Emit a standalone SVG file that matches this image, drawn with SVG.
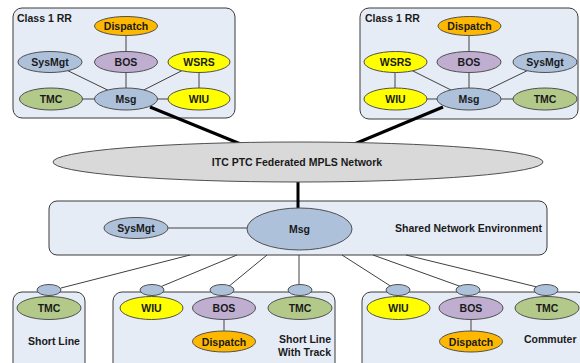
<svg xmlns="http://www.w3.org/2000/svg" width="580" height="363" viewBox="0 0 580 363">
<style>
text{font-family:"Liberation Sans",Arial,sans-serif;font-weight:bold;font-size:10.5px;fill:#1a1a1a}
.c{text-anchor:middle}
.e{text-anchor:end}
.box{fill:#e6ecf6;stroke:#3a3a3a;stroke-width:1}
.el{stroke:#505050;stroke-width:1}
.dis{fill:#ffb800}
.bos{fill:#bfaed0}
.blu{fill:#adc1da}
.yel{fill:#ffff00}
.tmc{fill:#b3c98a}
.net{fill:#d9d9d9}
.ln{stroke:#404040;stroke-width:1;fill:none}
.th{stroke:#000;stroke-width:3;fill:none}
</style>
<g id="box-rr1"><rect class="box" x="13" y="8" width="222" height="110" rx="9"/><text x="17" y="22">Class 1 RR</text></g>
<g id="box-rr2"><rect class="box" x="360" y="8" width="218" height="111" rx="9"/><text x="365" y="22">Class 1 RR</text></g>
<g id="box-shared"><rect class="box" x="49" y="201" width="498" height="54" rx="8"/><text class="e" x="542" y="232">Shared Network Environment</text></g>
<g id="box-shortline"><rect class="box" x="13" y="292" width="72" height="80" rx="9"/><text x="28" y="345">Short Line</text></g>
<g id="box-track"><rect class="box" x="113" y="292" width="222" height="80" rx="9"/><text class="e" x="331" y="343">Short Line</text><text class="e" x="331" y="356">With Track</text></g>
<g id="box-commuter"><rect class="box" x="362" y="292" width="224" height="80" rx="9"/><text x="524" y="343">Commuter</text></g>
<g id="connectors">
<line class="ln" x1="126" y1="26" x2="126" y2="99"/>
<line class="ln" x1="50" y1="62" x2="126" y2="99"/>
<line class="ln" x1="199" y1="62" x2="126" y2="99"/>
<line class="ln" x1="199" y1="62" x2="199" y2="99"/>
<line class="ln" x1="51" y1="99" x2="199" y2="99"/>
<line class="ln" x1="469" y1="26" x2="469" y2="99"/>
<line class="ln" x1="395" y1="62" x2="469" y2="99"/>
<line class="ln" x1="545" y1="62" x2="469" y2="99"/>
<line class="ln" x1="395" y1="62" x2="395" y2="99"/>
<line class="ln" x1="395" y1="99" x2="545" y2="99"/>
<line class="th" x1="150" y1="107" x2="243" y2="145"/>
<line class="th" x1="443" y1="107" x2="352" y2="145"/>
<line class="th" x1="298" y1="175" x2="298" y2="212"/>
<line class="ln" x1="136" y1="228" x2="260" y2="228"/>
<line class="ln" x1="190" y1="255" x2="61" y2="288"/>
<line class="ln" x1="237" y1="255" x2="160" y2="287"/>
<line class="ln" x1="267" y1="255" x2="228" y2="287"/>
<line class="ln" x1="299" y1="255" x2="299" y2="287"/>
<line class="ln" x1="342" y1="255" x2="392" y2="287"/>
<line class="ln" x1="373" y1="255" x2="462" y2="287"/>
<line class="ln" x1="406" y1="255" x2="537" y2="287"/>
<line class="ln" x1="224" y1="308" x2="224" y2="341"/>
<line class="ln" x1="471" y1="308" x2="471" y2="341"/>
</g>
<g id="rr1-dispatch"><ellipse class="el dis" cx="126" cy="26" rx="31.5" ry="9.5"/><text class="c" x="126" y="30">Dispatch</text></g>
<g id="rr1-sysmgt"><ellipse class="el blu" cx="50" cy="62" rx="32" ry="10.5"/><text class="c" x="50" y="66">SysMgt</text></g>
<g id="rr1-bos"><ellipse class="el bos" cx="126" cy="62" rx="31.5" ry="10.5"/><text class="c" x="126" y="66">BOS</text></g>
<g id="rr1-wsrs"><ellipse class="el yel" cx="199" cy="62" rx="31" ry="10.5"/><text class="c" x="199" y="66">WSRS</text></g>
<g id="rr1-tmc"><ellipse class="el tmc" cx="51" cy="99" rx="31.5" ry="11"/><text class="c" x="51" y="103">TMC</text></g>
<g id="rr1-msg"><ellipse class="el blu" cx="126" cy="99" rx="31.5" ry="11"/><text class="c" x="126" y="103">Msg</text></g>
<g id="rr1-wiu"><ellipse class="el yel" cx="199" cy="99" rx="31" ry="11"/><text class="c" x="199" y="103">WIU</text></g>
<g id="rr2-dispatch"><ellipse class="el dis" cx="469.5" cy="26" rx="31.5" ry="9.5"/><text class="c" x="469.5" y="30">Dispatch</text></g>
<g id="rr2-wsrs"><ellipse class="el yel" cx="395.5" cy="62" rx="31.5" ry="10.5"/><text class="c" x="395.5" y="66">WSRS</text></g>
<g id="rr2-bos"><ellipse class="el bos" cx="469" cy="62" rx="32" ry="10.5"/><text class="c" x="469" y="66">BOS</text></g>
<g id="rr2-sysmgt"><ellipse class="el blu" cx="545" cy="62" rx="32" ry="10.5"/><text class="c" x="545" y="66">SysMgt</text></g>
<g id="rr2-wiu"><ellipse class="el yel" cx="395.5" cy="99" rx="31.5" ry="11"/><text class="c" x="395.5" y="103">WIU</text></g>
<g id="rr2-msg"><ellipse class="el blu" cx="469" cy="99" rx="32" ry="11"/><text class="c" x="469" y="103">Msg</text></g>
<g id="rr2-tmc"><ellipse class="el tmc" cx="545" cy="99" rx="32" ry="11"/><text class="c" x="545" y="103">TMC</text></g>
<g id="network"><ellipse class="el net" cx="298" cy="162" rx="245" ry="20"/><text class="c" x="297" y="166">ITC PTC Federated MPLS Network</text></g>
<g id="shared-sysmgt"><ellipse class="el blu" cx="136" cy="228" rx="32" ry="10.5"/><text class="c" x="136" y="232">SysMgt</text></g>
<g id="shared-msg"><ellipse class="el blu" cx="299.5" cy="229" rx="52.5" ry="21"/><text class="c" x="299.5" y="233">Msg</text></g>
<g id="sl-port"><ellipse class="el blu" cx="49" cy="290" rx="12" ry="5.5"/></g>
<g id="sl-tmc"><ellipse class="el tmc" cx="49" cy="308" rx="32" ry="11.5"/><text class="c" x="49" y="312">TMC</text></g>
<g id="trk-wiu-port"><ellipse class="el blu" cx="152" cy="290" rx="12" ry="5.5"/></g>
<g id="trk-wiu"><ellipse class="el yel" cx="151.5" cy="308" rx="31.5" ry="11.5"/><text class="c" x="151.5" y="312">WIU</text></g>
<g id="trk-bos-port"><ellipse class="el blu" cx="222" cy="290" rx="12" ry="5.5"/></g>
<g id="trk-bos"><ellipse class="el bos" cx="224" cy="308" rx="31.5" ry="11.5"/><text class="c" x="224" y="312">BOS</text></g>
<g id="trk-tmc-port"><ellipse class="el blu" cx="300" cy="290" rx="12" ry="5.5"/></g>
<g id="trk-tmc"><ellipse class="el tmc" cx="300" cy="308" rx="32" ry="11.5"/><text class="c" x="300" y="312">TMC</text></g>
<g id="trk-dispatch"><ellipse class="el dis" cx="224" cy="341.5" rx="31.5" ry="10.5"/><text class="c" x="224" y="345.5">Dispatch</text></g>
<g id="com-wiu-port"><ellipse class="el blu" cx="398" cy="290" rx="12" ry="5.5"/></g>
<g id="com-wiu"><ellipse class="el yel" cx="398.5" cy="308" rx="31.5" ry="11.5"/><text class="c" x="398.5" y="312">WIU</text></g>
<g id="com-bos-port"><ellipse class="el blu" cx="468" cy="290" rx="12" ry="5.5"/></g>
<g id="com-bos"><ellipse class="el bos" cx="471" cy="308" rx="32" ry="11.5"/><text class="c" x="471" y="312">BOS</text></g>
<g id="com-tmc-port"><ellipse class="el blu" cx="546" cy="290" rx="12" ry="5.5"/></g>
<g id="com-tmc"><ellipse class="el tmc" cx="547" cy="308" rx="32" ry="11.5"/><text class="c" x="547" y="312">TMC</text></g>
<g id="com-dispatch"><ellipse class="el dis" cx="471" cy="341.5" rx="31.5" ry="10.5"/><text class="c" x="471" y="345.5">Dispatch</text></g>
</svg>
